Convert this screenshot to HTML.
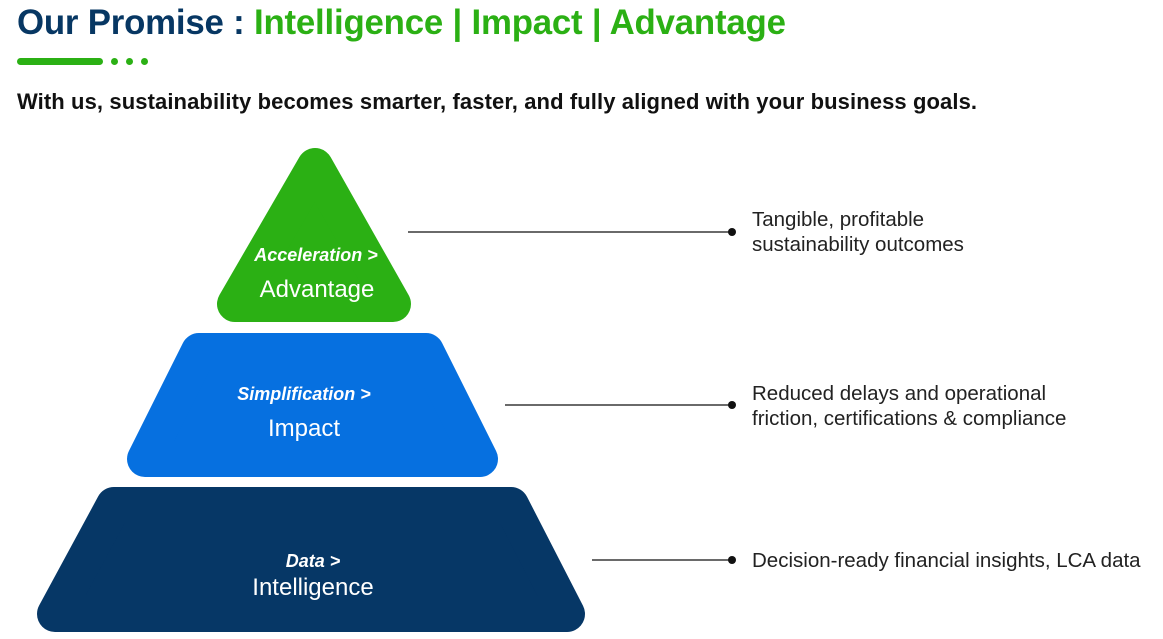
<!DOCTYPE html>
<html><head><meta charset="utf-8"><style>
body{margin:0;width:1163px;height:639px;background:#fff;overflow:hidden;position:relative;font-family:"Liberation Sans",sans-serif}
.t{position:absolute;white-space:nowrap}
</style></head><body>
<div class="t" style="left:17px;top:3px;font-size:34.8px;font-weight:bold;color:#073763;letter-spacing:-0.2px">Our Promise : <span style="color:#2bb014">Intelligence | Impact | Advantage</span></div>
<div style="position:absolute;left:17px;top:58px;width:86px;height:7px;border-radius:4px;background:#2bb014"></div>
<div style="position:absolute;left:111px;top:58px;width:7px;height:7px;border-radius:50%;background:#2bb014"></div>
<div style="position:absolute;left:126px;top:58px;width:7px;height:7px;border-radius:50%;background:#2bb014"></div>
<div style="position:absolute;left:141px;top:58px;width:7px;height:7px;border-radius:50%;background:#2bb014"></div>
<div class="t" style="left:17px;top:89px;font-size:22px;font-weight:bold;color:#111;letter-spacing:0.1px">With us, sustainability becomes smarter, faster, and fully aligned with your business goals.</div>
<svg width="1163" height="639" style="position:absolute;left:0;top:0">
<g stroke-linejoin="round" stroke-width="36">
<polygon points="315,166 235,304 393,304" fill="#2bb014" stroke="#2bb014"/>
<polygon points="199,351 426,351 480,459 145,459" fill="#0670e0" stroke="#0670e0"/>
<polygon points="114,505 511,505 567,614 55,614" fill="#063766" stroke="#063766"/>
</g>
<g stroke="#111" stroke-width="1.3">
<line x1="408" y1="232" x2="732" y2="232"/>
<line x1="505" y1="405" x2="732" y2="405"/>
<line x1="592" y1="560" x2="732" y2="560"/>
</g>
<g fill="#111"><circle cx="732" cy="232" r="4"/><circle cx="732" cy="405" r="4"/><circle cx="732" cy="560" r="4"/></g>
<g fill="#fff" text-anchor="middle" font-family="Liberation Sans, sans-serif">
<text x="316" y="261" font-size="18" font-style="italic" font-weight="bold">Acceleration &gt;</text>
<text x="317" y="297" font-size="24">Advantage</text>
<text x="304" y="400" font-size="18" font-style="italic" font-weight="bold">Simplification &gt;</text>
<text x="304" y="436" font-size="24">Impact</text>
<text x="313" y="567" font-size="18" font-style="italic" font-weight="bold">Data &gt;</text>
<text x="313" y="595" font-size="24">Intelligence</text>
</g>
<g fill="#222" font-family="Liberation Sans, sans-serif" font-size="20.5">
<text x="752" y="226">Tangible, profitable</text>
<text x="752" y="251">sustainability outcomes</text>
<text x="752" y="400">Reduced delays and operational</text>
<text x="752" y="425">friction, certifications &amp; compliance</text>
<text x="752" y="567">Decision-ready financial insights, LCA data</text>
</g>
</svg>
</body></html>
